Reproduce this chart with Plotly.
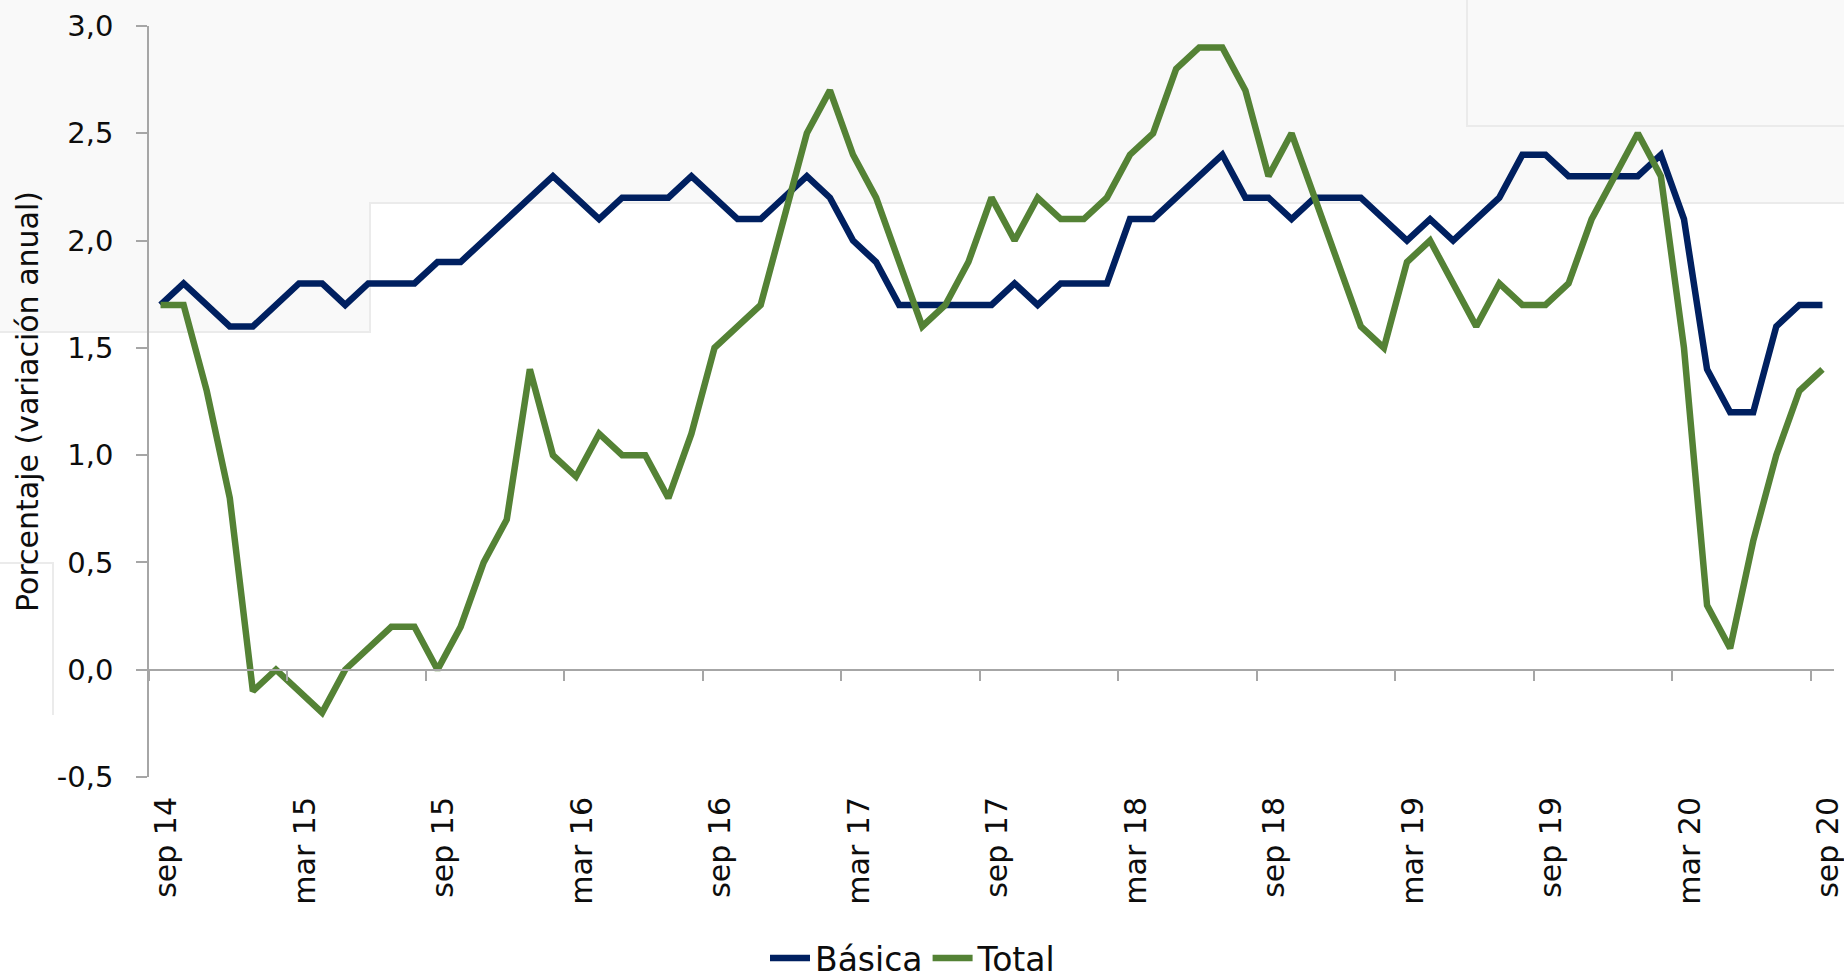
import plotly.graph_objects as go

# ---- data ----
months_es = ["ene", "feb", "mar", "abr", "may", "jun", "jul", "ago", "sep", "oct", "nov", "dic"]
periods = []
m, y = 8, 14
for _ in range(73):
    periods.append(f"{months_es[m]} {y}")
    m += 1
    if m == 12:
        m, y = 0, y + 1

basica = [1.7, 1.8, 1.7, 1.6, 1.6, 1.7, 1.8, 1.8, 1.7, 1.8,
          1.8, 1.8, 1.9, 1.9, 2.0, 2.1, 2.2, 2.3, 2.2, 2.1,
          2.2, 2.2, 2.2, 2.3, 2.2, 2.1, 2.1, 2.2, 2.3, 2.2,
          2.0, 1.9, 1.7, 1.7, 1.7, 1.7, 1.7, 1.8, 1.7, 1.8,
          1.8, 1.8, 2.1, 2.1, 2.2, 2.3, 2.4, 2.2, 2.2, 2.1,
          2.2, 2.2, 2.2, 2.1, 2.0, 2.1, 2.0, 2.1, 2.2, 2.4,
          2.4, 2.3, 2.3, 2.3, 2.3, 2.4, 2.1, 1.4, 1.2, 1.2,
          1.6, 1.7, 1.7]

total = [1.7, 1.7, 1.3, 0.8, -0.1, 0.0, -0.1, -0.2, 0.0, 0.1,
         0.2, 0.2, 0.0, 0.2, 0.5, 0.7, 1.4, 1.0, 0.9, 1.1,
         1.0, 1.0, 0.8, 1.1, 1.5, 1.6, 1.7, 2.1, 2.5, 2.7,
         2.4, 2.2, 1.9, 1.6, 1.7, 1.9, 2.2, 2.0, 2.2, 2.1,
         2.1, 2.2, 2.4, 2.5, 2.8, 2.9, 2.9, 2.7, 2.3, 2.5,
         2.2, 1.9, 1.6, 1.5, 1.9, 2.0, 1.8, 1.6, 1.8, 1.7,
         1.7, 1.8, 2.1, 2.3, 2.5, 2.3, 1.5, 0.3, 0.1, 0.6,
         1.0, 1.3, 1.4]

tick_idx = list(range(0, 73, 6))
tick_labels = [periods[i] for i in tick_idx]
y_ticks = [-0.5, 0.0, 0.5, 1.0, 1.5, 2.0, 2.5, 3.0]
y_tick_labels = ["-0,5", "0,0", "0,5", "1,0", "1,5", "2,0", "2,5", "3,0"]

idx = list(range(len(periods)))

W, H = 1844, 979
L, R, T, B = 149, 10, 26, 202
pw, ph = W - L - R, H - T - B
YMIN, YMAX = -0.5, 3.0


def px(xp):
    return (xp - L) / pw


def py(yp):
    return (H - B - yp) / ph


FONT = "DejaVu Sans"
AXC = "#a6a6a6"

fig = go.Figure()
fig.add_trace(go.Scatter(x=idx, y=basica, name="Básica", mode="lines",
                         line=dict(color="#002060", width=6.5), customdata=periods))
fig.add_trace(go.Scatter(x=idx, y=total, name="Total", mode="lines",
                         line=dict(color="#548235", width=6.5), customdata=periods))
# invisible trace to carry the boundary tick axis
fig.add_trace(go.Scatter(x=idx, y=total, xaxis="x2", mode="lines",
                         line=dict(color="rgba(0,0,0,0)", width=0),
                         showlegend=False, hoverinfo="skip"))

# faint background artefacts of the original capture
shapes = []
fillc, linec = "#f9f9f9", "#ebebeb"
shapes.append(dict(type="path", xref="paper", yref="paper", layer="below",
                   path=f"M {px(0)},{py(0)} L {px(W)},{py(0)} L {px(W)},{py(203)} "
                        f"L {px(370)},{py(203)} L {px(370)},{py(332)} L {px(0)},{py(332)} Z",
                   fillcolor=fillc, line=dict(width=0)))
shapes.append(dict(type="path", xref="paper", yref="paper", layer="below",
                   path=f"M {px(W)},{py(203)} L {px(370)},{py(203)} L {px(370)},{py(332)} L {px(0)},{py(332)}",
                   line=dict(color=linec, width=2)))
shapes.append(dict(type="path", xref="paper", yref="paper", layer="below",
                   path=f"M {px(1467)},{py(0)} L {px(1467)},{py(126)} L {px(W)},{py(126)}",
                   line=dict(color=linec, width=2)))
shapes.append(dict(type="path", xref="paper", yref="paper", layer="below",
                   path=f"M {px(0)},{py(563)} L {px(53)},{py(563)} L {px(53)},{py(715)}",
                   line=dict(color=linec, width=2)))

fig.update_layout(
    width=W, height=H,
    margin=dict(l=L, r=R, t=T, b=B, autoexpand=False),
    paper_bgcolor="white", plot_bgcolor="rgba(0,0,0,0)",
    separators=",.",
    font=dict(family=FONT, size=28, color="#0d0d0d"),
    shapes=shapes,
    xaxis=dict(range=[-0.5, 72.5], tickmode="array", tickvals=tick_idx, ticktext=tick_labels,
               tickangle=-90, ticks="", showline=False, showgrid=False, zeroline=False,
               automargin=False, ticklabelstandoff=13, ticklabelshift=6,
               ticklabeloverflow="allow", tickfont=dict(size=30)),
    xaxis2=dict(range=[-0.5, 72.5], overlaying="x", anchor="free",
                position=(0 - YMIN) / (YMAX - YMIN),
                tickmode="array", tickvals=[i - 0.5 for i in tick_idx],
                ticks="outside", ticklen=11, tickcolor=AXC, tickwidth=1.5,
                showline=True, linecolor=AXC, linewidth=1.5, automargin=False,
                showticklabels=False, showgrid=False, zeroline=False),
    yaxis=dict(range=[YMIN, YMAX], tickmode="array", tickvals=y_ticks, ticktext=y_tick_labels,
               ticks="outside", ticklen=11, tickcolor=AXC, tickwidth=1.5,
               showline=True, linecolor=AXC, linewidth=1.5, automargin=False,
               showgrid=False, zeroline=False, ticklabelstandoff=17,
               tickfont=dict(size=29),
               title=dict(text="Porcentaje (variación anual)", font=dict(size=30), standoff=9)),
    legend=dict(orientation="h", x=px(913), xanchor="center", y=py(958), yanchor="middle",
                font=dict(size=33), itemwidth=40, bgcolor="rgba(0,0,0,0)"),
    showlegend=True,
)

fig.write_html("out.html", config={"displayModeBar": False},
               post_script="document.body.style.margin='0px';document.body.style.overflow='hidden';")
